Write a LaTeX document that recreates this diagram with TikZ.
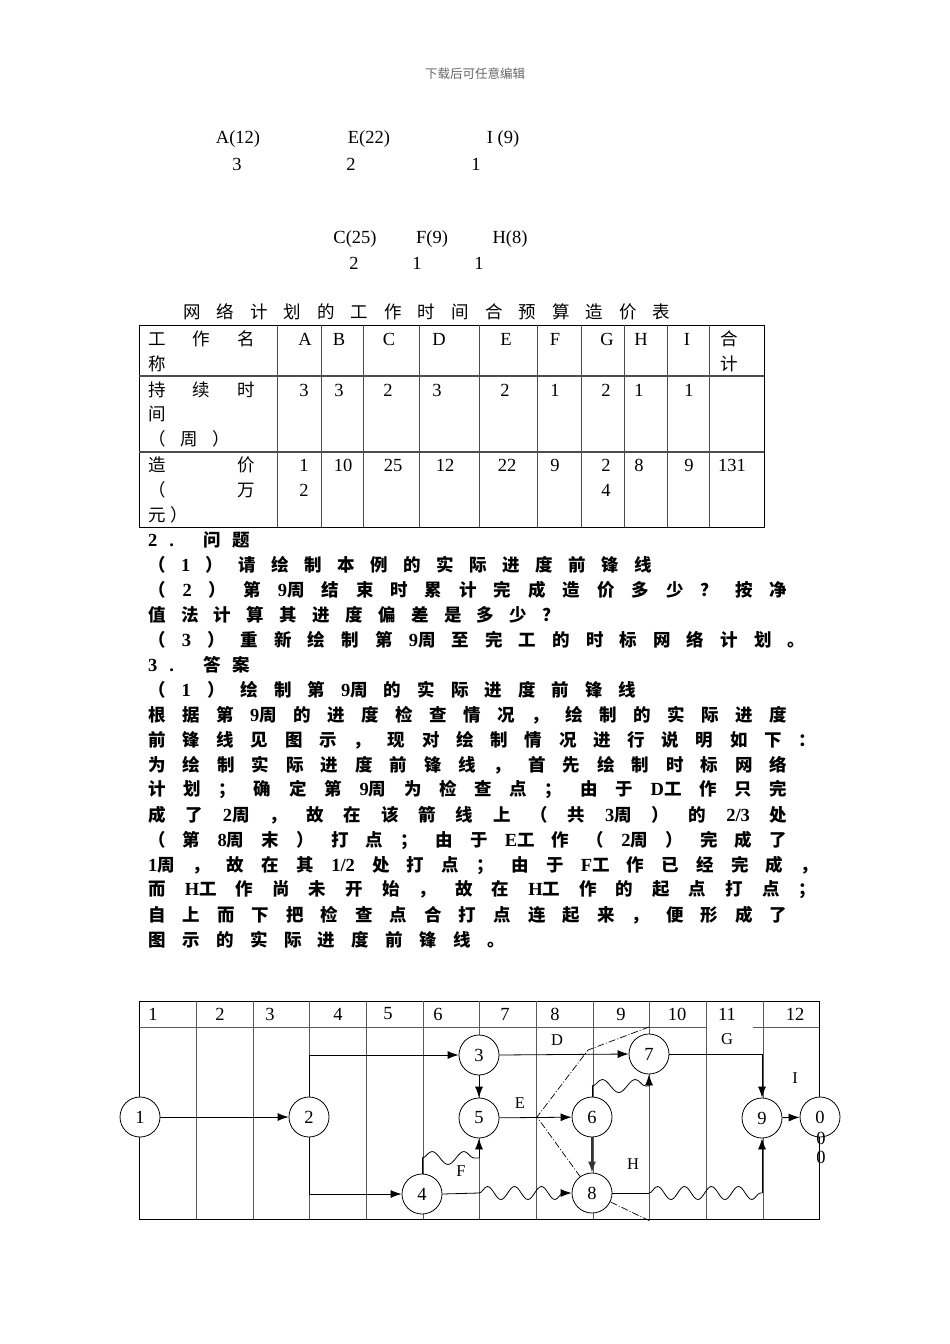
\documentclass[tikz,border=0pt]{standalone}
\usepackage{fontspec}
\setmainfont{Liberation Serif}
\newfontfamily\cjk{Noto Sans CJK SC}
\usetikzlibrary{arrows.meta,decorations.pathmorphing}
\newcommand\latn[1]{{\rmfamily\fontsize{18.5}{20}\selectfont #1}}
\tikzset{
  every node/.style={inner sep=0pt},
  zhline/.style={anchor=west,font=\fontsize{17.5}{20}\selectfont\cjk\bfseries},
  zhcell/.style={anchor=west,font=\fontsize{17.5}{20}\selectfont\cjk},
  lat/.style={font=\fontsize{18.5}{22}\selectfont},
  tabline/.style={black!70,line width=0.9pt},
  gridline/.style={black!65,line width=0.8pt},
  vtx/.style={circle,draw,line width=0.8pt,minimum size=40pt,fill=white,font=\fontsize{18.5}{22}\selectfont},
  arr/.style={line width=0.8pt,-{Latex[length=11pt,width=8pt]}},
  edge/.style={line width=0.8pt},
  wave/.style={line width=0.8pt,decorate,decoration={snake,amplitude=6.5pt,segment length=27pt}},
  front/.style={line width=0.7pt,dash pattern=on 7pt off 2pt on 1pt off 2pt},
  elabel/.style={font=\fontsize{16.5}{20}\selectfont}
}
\begin{document}
\begin{tikzpicture}[x=1pt,y=-1pt]
\useasboundingbox[fill=white] (0,0) rectangle (950,1344);

%page header
\node[font=\fontsize{12.5}{15}\selectfont\cjk,text=black!60] (head) at (475,74) {下载后可任意编辑};

%durations and costs
\node[lat] (tA) at (238,139) {A(12)};
\node[lat] (dA) at (237,164) {3};
\node[lat] (tE) at (369,139) {E(22)};
\node[lat] (dE) at (351,164) {2};
\node[lat] (tI) at (503,139) {I (9)};
\node[lat] (dI) at (476,164) {1};
\node[lat] (tC) at (355,239) {C(25)};
\node[lat] (dC) at (354,263) {2};
\node[lat] (tF) at (432,239) {F(9)};
\node[lat] (dF) at (417,263) {1};
\node[lat] (tH) at (510,239) {H(8)};
\node[lat] (dH) at (479,263) {1};

%table
\node[zhcell] (title) at (183,312) {\makebox[487pt][s]{网 络 计 划 的 工 作 时 间 合 预 算 造 价 表}};
\draw[line width=0.9pt] (139,325) rectangle (764,527);
\draw[tabline,line width=1.3pt] (139,376) -- (764,376);
\draw[tabline,line width=1.3pt] (139,452) -- (764,452);
\foreach \x in {277,321,363,419,479,537,581,624,667,709}
  \draw[tabline] (\x,325) -- (\x,527);
\node[zhcell] (c11) at (148,339) {\makebox[107pt][s]{工 作 名}};
\node[zhcell] (c12) at (148,364) {称};
\node[zhcell] (c21) at (148,390) {\makebox[107pt][s]{持 续 时}};
\node[zhcell] (c22) at (148,414) {间};
\node[zhcell] (c23) at (148,439) {\makebox[82pt][s]{（ 周 ）}};
\node[zhcell] (c31) at (148,465) {\makebox[107pt][s]{造 价}};
\node[zhcell] (c32) at (148,490) {\makebox[107pt][s]{（ 万}};
\node[zhcell] (c33) at (148,515) {\makebox[40pt][s]{元 ）}};
\foreach \x/\t [count=\i] in {305/A,339/B,389/C,439/D,506/E,555/F,607/G,641/H,687/I}
  \node[lat] (h\i) at (\x,339) {\t};
\node[zhcell] (h10a) at (720,339) {合};
\node[zhcell] (h10b) at (720,364) {计};
\foreach \x/\t [count=\i] in {304/3,339/3,388/2,437/3,505/2,555/1,606/2,639/1,689/1}
  \node[lat] (w\i) at (\x,390) {\t};
\foreach \x/\t [count=\i] in {343/10,393/25,445/12,507/22,555/9,639/8,689/9,732/131}
  \node[lat] (p\i) at (\x,465) {\t};
\node[lat] (pA) at (304,490) {2};
\node[lat] (pA0) at (304,465) {1};
\node[lat] (pG) at (606,490) {4};
\node[lat] (pG0) at (606,465) {2};

%questions and answers
\node[zhline] (q0) at (148,540) {\makebox[102pt][s]{\latn{2} \latn{.} 问 题}};
\node[zhline] (q1) at (148,565) {\makebox[504pt][s]{（ \latn{1} ） 请 绘 制 本 例 的 实 际 进 度 前 锋 线}};
\node[zhline] (q2) at (148,590) {\makebox[639pt][s]{（ \latn{2} ） 第 \latn{9}周 结 束 时 累 计 完 成 造 价 多 少 ？ 按 净}};
\node[zhline] (q3) at (148,615) {\makebox[412pt][s]{值 法 计 算 其 进 度 偏 差 是 多 少 ？}};
\node[zhline] (q4) at (148,640) {\makebox[657pt][s]{（ \latn{3} ） 重 新 绘 制 第 \latn{9}周 至 完 工 的 时 标 网 络 计 划 。}};
\node[zhline] (a0) at (148,665) {\makebox[102pt][s]{\latn{3} \latn{.} 答 案}};
\node[zhline] (a1) at (148,690) {\makebox[488pt][s]{（ \latn{1} ） 绘 制 第 \latn{9}周 的 实 际 进 度 前 锋 线}};
\node[zhline] (a2) at (148,715) {\makebox[639pt][s]{根 据 第 \latn{9}周 的 进 度 检 查 情 况 ， 绘 制 的 实 际 进 度}};
\node[zhline] (a3) at (148,740) {\makebox[668pt][s]{前 锋 线 见 图 示 ， 现 对 绘 制 情 况 进 行 说 明 如 下 ：}};
\node[zhline] (a4) at (148,765) {\makebox[639pt][s]{为 绘 制 实 际 进 度 前 锋 线 ， 首 先 绘 制 时 标 网 络}};
\node[zhline] (a5) at (148,790) {\makebox[639pt][s]{计 划 ； 确 定 第 \latn{9}周 为 检 查 点 ； 由 于 \latn{D}工 作 只 完}};
\node[zhline] (a6) at (148,815) {\makebox[639pt][s]{成 了 \latn{2}周 ， 故 在 该 箭 线 上 （ 共 \latn{3}周 ） 的 \latn{2/3} 处}};
\node[zhline] (a7) at (148,840) {\makebox[639pt][s]{（ 第 \latn{8}周 末 ） 打 点 ； 由 于 \latn{E}工 作 （ \latn{2}周 ） 完 成 了}};
\node[zhline] (a8) at (148,865) {\makebox[670pt][s]{\latn{1}周 ， 故 在 其 \latn{1/2} 处 打 点 ； 由 于 \latn{F}工 作 已 经 完 成 ，}};
\node[zhline] (a9) at (148,890) {\makebox[668pt][s]{而 \latn{H}工 作 尚 未 开 始 ， 故 在 \latn{H}工 作 的 起 点 打 点 ；}};
\node[zhline] (a10) at (148,915) {\makebox[639pt][s]{自 上 而 下 把 检 查 点 合 打 点 连 起 来 ， 便 形 成 了}};
\node[zhline] (a11) at (148,940) {\makebox[357pt][s]{图 示 的 实 际 进 度 前 锋 线 。}};

%time-scaled network
\draw[line width=0.9pt] (139,1001) rectangle (819,1219);
\draw[gridline] (139,1027) -- (706,1027);
\draw[gridline] (753,1027) -- (819,1027);
\foreach \x in {196,253,309,366,423,479,536,593,649,706,763}
  \draw[gridline] (\x,1001) -- (\x,1219);
\foreach \x/\t [count=\i] in {153/1,220/2,270/3,338/4,388/5,438/6,505/7,555/8,621/9,677/10,727/11,795/12}
  \node[lat] (wk\i) at (\x,1014) {\t};
%front line
\draw[front] (649,1027) -- (588,1050) -- (537,1117) -- (592,1193) -- (650,1221);

\node[vtx] (n1) at (140,1117) {1};
\node[vtx] (n2) at (309,1117) {2};
\node[vtx] (n3) at (479,1055) {3};
\node[vtx] (n5) at (479,1118) {5};
\node[vtx] (n4) at (422,1194) {4};
\node[vtx] (n6) at (592,1117) {6};
\node[vtx] (n7) at (649,1054) {7};
\node[vtx] (n8) at (592,1193) {8};
\node[vtx] (n9) at (762,1118) {9};
\node[vtx] (n0) at (820,1117) {0};
\node[lat] (z1) at (821,1138) {0};
\node[lat] (z2) at (821,1157) {0};

\coordinate (f1) at (422,1158);
\coordinate (f2) at (479,1158);
\coordinate (h1) at (479,1193);
\coordinate (h2) at (566,1193);
\coordinate (g1) at (592,1086);
\coordinate (g2) at (649,1086);
\coordinate (k1) at (649,1193);
\coordinate (k2) at (762,1193);

\draw[arr] (n1) -- (n2);
\draw[arr] (n2.north) |- (n3.west);
\draw[arr] (n2.south) |- (n4.west);
\draw[arr] (n3.east) -- (n7.west);
\draw[arr] (n3) -- (n5);
\draw[arr] (n5) -- (n6);
\draw[arr,line width=1.6pt,black!80] (n6) -- (n8);
\draw[edge] (n4.north) -- (f1);
\draw[wave,decoration={segment length=32pt,amplitude=6.5pt}] (f1) -- (f2);
\draw[arr] (f2) -- (n5.south);
\draw[edge] (n4.east) -- (h1);
\draw[wave] (h1) -- (h2);
\draw[arr] (h2) -- (n8.west);
\draw[edge] (n6.north) -- (g1);
\draw[wave,decoration={segment length=33pt,amplitude=6.5pt}] (g1) -- (g2);
\draw[arr] (g2) -- (n7.south);
\draw[arr] (n7.east) -| (n9.north);
\draw[edge] (n8.east) -- (k1);
\draw[wave] (k1) -- (k2);
\draw[arr] (k2) -- (n9.south);
\draw[arr] (n9) -- (n0);

\node[elabel] (lD) at (557,1040) {D};
\node[elabel] (lE) at (520,1103) {E};
\node[elabel] (lF) at (461,1171) {F};
\node[elabel] (lG) at (727,1039) {G};
\node[elabel] (lH) at (633,1164) {H};
\node[elabel] (lI) at (795,1078) {I};
\end{tikzpicture}
\end{document}
